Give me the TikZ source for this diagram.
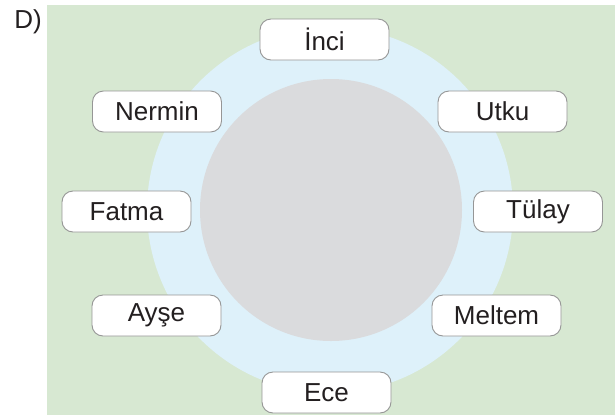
\documentclass[tikz,border=0pt]{standalone}
\usepackage{fontspec}
\setmainfont{Liberation Sans}
\usepackage{tikz}
\usetikzlibrary{positioning}

\definecolor{field}{RGB}{215,232,210}
\definecolor{ring}{RGB}{222,241,250}
\definecolor{table}{RGB}{218,219,221}
\definecolor{frame}{RGB}{150,150,150}
\definecolor{ink}{RGB}{35,31,32}

\tikzset{
    namebox/.style={rectangle, draw=frame, fill=white, line width=0.9pt,
        rounded corners=11pt, minimum height=41pt, minimum width=129pt,
        text=ink, font=\fontsize{26}{30}\selectfont}
}

\begin{document}
\begin{tikzpicture}[x=1pt, y=-1pt]
                        \useasboundingbox (0,0) rectangle (616,416);
                        \fill[field] (47,5) rectangle (615,415);
                        \fill[ring] (330,210) circle (183pt);
                        \fill[table] (331,210) circle (131pt);
                        \node[text=ink, font=\fontsize{26}{30}\selectfont]
                            (label) at (28,22) {D)};
                        \node[namebox] (inci) at (324.5,39.5) {İnci};
                        \node[namebox] (nermin) at (157,111.5) {Nermin};
                        \node[namebox] (utku) at (502.5,111.5) {Utku};
                        \node[namebox] (fatma) at (126.5,211.5) {Fatma};
                        \node[namebox] (tulay) at (538,211.5) {Tülay};
                        \node[namebox] (ayse) at (156.5,315.5) {Ayşe};
                        \node[namebox] (meltem) at (496.5,315.5) {Meltem};
                        \node[namebox] (ece) at (326.5,392.5) {Ece};
                    \end{tikzpicture}
\end{document}
